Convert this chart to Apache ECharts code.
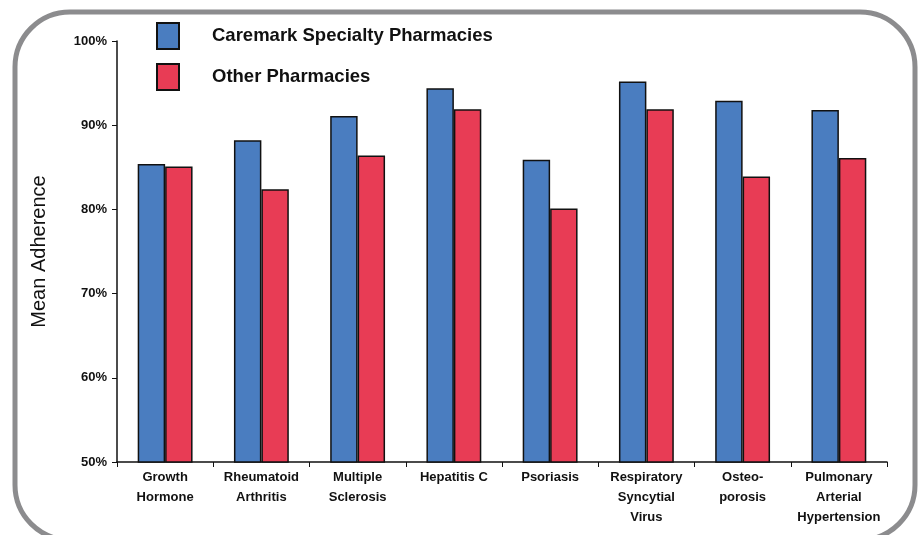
<!DOCTYPE html>
<html>
<head>
<meta charset="utf-8">
<script src="https://cdn.jsdelivr.net/npm/echarts@6/dist/echarts.min.js"></script>
<style>
  html, body { margin: 0; padding: 0; background: #fff; }
  #adherence { width: 922px; height: 535px; }
</style>
</head>
<body>
<div id="adherence"></div>
<script>
// disease areas on the x axis
const categories = [
  "Growth\nHormone",
  "Rheumatoid\nArthritis",
  "Multiple\nSclerosis",
  "Hepatitis C",
  "Psoriasis",
  "Respiratory\nSyncytial\nVirus",
  "Osteo-\nporosis",
  "Pulmonary\nArterial\nHypertension"
]
const seriesNames = ["Caremark Specialty Pharmacies", "Other Pharmacies"]
// mean adherence, percent
const caremark = [85.4, 88.2, 91.1, 94.4, 85.9, 95.2, 92.9, 91.8]
const other = [85.1, 82.4, 86.4, 91.9, 80.1, 91.9, 83.9, 86.1]
const yTicks = [50, 60, 70, 80, 90, 100]

const chart = echarts.init(document.getElementById("adherence"))
const font = "Liberation Sans, Arial, sans-serif"

const option = {
  backgroundColor: "#fff",
  animation: false,
  graphic: [{
    type: "rect",
    shape: { x: 15, y: 12, width: 900, height: 528, r: 55 },
    style: { fill: "none", stroke: "#8c8c8e", lineWidth: 5 },
    z: -1
  }],
  legend: {
    orient: "vertical",
    left: 156,
    top: 22,
    padding: 0,
    itemWidth: 22,
    itemHeight: 26,
    itemGap: 13,
    icon: "rect",
    textStyle: {
      fontFamily: font,
      fontWeight: "bold",
      fontSize: 18.5,
      color: "#111",
      padding: [0, 0, 0, 28]
    },
    data: seriesNames
  },
  grid: {
    left: 117,
    right: 35,
    top: 41,
    bottom: 73
  },
  xAxis: {
    type: "category",
    data: categories,
    axisLine: { lineStyle: { color: "#111", width: 1.5 } },
    axisTick: { show: true, length: 5, lineStyle: { color: "#111" } },
    axisLabel: {
      interval: 0,
      margin: 5,
      fontFamily: font,
      fontWeight: "bold",
      fontSize: 13,
      lineHeight: 20,
      color: "#111"
    }
  },
  yAxis: {
    type: "value",
    min: yTicks[0],
    max: yTicks[yTicks.length - 1],
    interval: 10,
    name: "Mean Adherence",
    nameLocation: "middle",
    nameGap: 68,
    nameTextStyle: { fontFamily: font, fontSize: 20, color: "#111" },
    axisLine: { show: true, lineStyle: { color: "#111", width: 1.5 } },
    axisTick: { show: true, length: 5, lineStyle: { color: "#111" } },
    splitLine: { show: false },
    axisLabel: {
      margin: 10,
      fontFamily: font,
      fontWeight: "bold",
      fontSize: 13,
      color: "#111",
      formatter: function(v) { return v + "%" }
    }
  },
  series: [
    {
      name: seriesNames[0],
      type: "bar",
      data: caremark,
      barGap: "0%",
      barCategoryGap: "43%",
      itemStyle: { color: "#4a7dc0", borderColor: "#111", borderWidth: 1.5 }
    },
    {
      name: seriesNames[1],
      type: "bar",
      data: other,
      itemStyle: { color: "#e83c55", borderColor: "#111", borderWidth: 1.5 }
    }
  ]
}

chart.setOption(option)
</script>
</body>
</html>
